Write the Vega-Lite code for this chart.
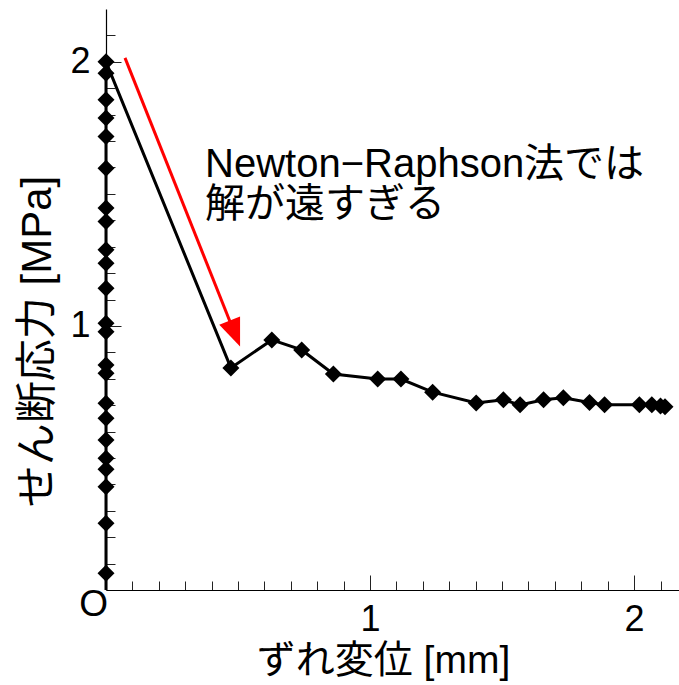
{
  "$schema": "https://vega.github.io/schema/vega-lite/v6.json",
  "width": 573,
  "height": 581,
  "autosize": "none",
  "padding": {"left": 106, "top": 9, "right": 0, "bottom": 95},
  "background": "white",
  "config": {
    "view": {"stroke": null},
    "font": "Liberation Sans, Noto Sans CJK JP",
    "axis": {
      "grid": false,
      "domainColor": "#000",
      "domainWidth": 1.2,
      "tickColor": "#222",
      "tickWidth": 1,
      "labelColor": "#000",
      "titleColor": "#000",
      "labelFont": "Liberation Sans",
      "titleFont": "Liberation Sans, Noto Sans CJK JP",
      "titleFontWeight": "normal",
      "labelFontSize": 36
    }
  },
  "datasets": {
    "main": [
      {"i": 0, "x": 0, "y": 0},
      {"i": 1, "x": 0, "y": 0.063},
      {"i": 2, "x": 0, "y": 0.253},
      {"i": 3, "x": 0, "y": 0.391},
      {"i": 4, "x": 0, "y": 0.457},
      {"i": 5, "x": 0, "y": 0.499},
      {"i": 6, "x": 0, "y": 0.568},
      {"i": 7, "x": 0, "y": 0.65},
      {"i": 8, "x": 0, "y": 0.707},
      {"i": 9, "x": 0, "y": 0.821},
      {"i": 10, "x": 0, "y": 0.852},
      {"i": 11, "x": 0, "y": 0.978},
      {"i": 12, "x": 0, "y": 1.01},
      {"i": 13, "x": 0, "y": 1.143},
      {"i": 14, "x": 0, "y": 1.237},
      {"i": 15, "x": 0, "y": 1.288},
      {"i": 16, "x": 0, "y": 1.395},
      {"i": 17, "x": 0, "y": 1.446},
      {"i": 18, "x": 0, "y": 1.597},
      {"i": 19, "x": 0, "y": 1.717},
      {"i": 20, "x": 0, "y": 1.787},
      {"i": 21, "x": 0, "y": 1.856},
      {"i": 22, "x": 0, "y": 1.957},
      {"i": 23, "x": 0, "y": 2.0},
      {"i": 24, "x": 0.473, "y": 0.841},
      {"i": 25, "x": 0.628, "y": 0.947},
      {"i": 26, "x": 0.741, "y": 0.909},
      {"i": 27, "x": 0.861, "y": 0.818},
      {"i": 28, "x": 1.029, "y": 0.799},
      {"i": 29, "x": 1.117, "y": 0.799},
      {"i": 30, "x": 1.237, "y": 0.749},
      {"i": 31, "x": 1.402, "y": 0.708},
      {"i": 32, "x": 1.505, "y": 0.72},
      {"i": 33, "x": 1.568, "y": 0.701},
      {"i": 34, "x": 1.657, "y": 0.72},
      {"i": 35, "x": 1.732, "y": 0.728},
      {"i": 36, "x": 1.831, "y": 0.71},
      {"i": 37, "x": 1.888, "y": 0.701},
      {"i": 38, "x": 2.02, "y": 0.701},
      {"i": 39, "x": 2.067, "y": 0.701},
      {"i": 40, "x": 2.1, "y": 0.697},
      {"i": 41, "x": 2.117, "y": 0.694}
    ],
    "arrow": [
      {"x": 0.072, "y": 2.015, "x2": 0.472, "y2": 1.01}
    ],
    "arrowhead": [
      {"x": 0.488, "y": 0.971}
    ],
    "notes": [
      {"x": 0.375, "y": 1.564}
    ],
    "origin": [
      {"x": 0, "y": 0, "label": "O"}
    ]
  },
  "layer": [
    {
      "data": {"name": "main"},
      "mark": {"type": "line", "color": "black", "strokeWidth": 3},
      "encoding": {
        "x": {
          "field": "x", "type": "quantitative",
          "scale": {"domain": [0, 2.17], "nice": false, "zero": false},
          "axis": {
            "title": "ずれ変位 [mm]",
            "titleFontSize": 39,
            "titleX": 277,
            "titleY": 70,
            "titleBaseline": "middle",
            "titleAlign": "center",
            "values": [0.1, 0.2, 0.3, 0.4, 0.5, 0.6, 0.7, 0.8, 0.9, 1, 1.1, 1.2, 1.3, 1.4, 1.5, 1.6, 1.7, 1.8, 1.9, 2, 2.1],
            "tickCount": 40,
            "labelExpr": "datum.value === 1 ? '1' : datum.value === 2 ? '2' : ''",
            "tickSize": {"condition": {"test": "datum.value === 1 || datum.value === 2", "value": -15}, "value": -9},
            "labelPadding": 27,
            "labelBaseline": "top",
            "labelFlush": false,
            "labelOverlap": false
          }
        },
        "y": {
          "field": "y", "type": "quantitative",
          "scale": {"domain": [0, 2.2], "nice": false, "zero": false},
          "axis": {
            "title": "せん断応力 [MPa]",
            "titleFontSize": 42,
            "titleX": -69,
            "titleY": 332,
            "titleBaseline": "middle",
            "titleAlign": "center",
            "values": [0.1, 0.2, 0.3, 0.4, 0.5, 0.6, 0.7, 0.8, 0.9, 1, 1.1, 1.2, 1.3, 1.4, 1.5, 1.6, 1.7, 1.8, 1.9, 2, 2.1],
            "tickCount": 40,
            "labelExpr": "datum.value === 1 ? '1' : datum.value === 2 ? '2' : ''",
            "tickSize": {"condition": {"test": "datum.value === 1 || datum.value === 2", "value": -15}, "value": -9},
            "labelPadding": 31,
            "labelBaseline": "middle",
            "labelFlush": false,
            "labelOverlap": false
          }
        },
        "order": {"field": "i", "type": "quantitative"}
      }
    },
    {
      "data": {"name": "main"},
      "transform": [{"filter": "datum.y > 0"}],
      "mark": {"type": "point", "shape": "diamond", "filled": true, "color": "black", "size": 289, "opacity": 1},
      "encoding": {
        "x": {"field": "x", "type": "quantitative"},
        "y": {"field": "y", "type": "quantitative"}
      }
    },
    {
      "data": {"name": "arrow"},
      "mark": {"type": "rule", "color": "#ff0000", "strokeWidth": 3},
      "encoding": {
        "x": {"field": "x", "type": "quantitative"},
        "y": {"field": "y", "type": "quantitative"},
        "x2": {"field": "x2"},
        "y2": {"field": "y2"}
      }
    },
    {
      "data": {"name": "arrowhead"},
      "mark": {"type": "point", "shape": "M-0.8,-1L0.8,-1L0,1Z", "filled": true, "color": "#ff0000", "size": 784, "angle": 338.2, "opacity": 1},
      "encoding": {
        "x": {"field": "x", "type": "quantitative"},
        "y": {"field": "y", "type": "quantitative"}
      }
    },
    {
      "data": {"name": "notes"},
      "mark": {"type": "text", "text": ["Newton−Raphson法では", "解が遠すぎる"], "align": "left", "baseline": "alphabetic", "fontSize": 40, "lineHeight": 40, "color": "black", "font": "Liberation Sans, Noto Sans CJK JP"},
      "encoding": {
        "x": {"field": "x", "type": "quantitative"},
        "y": {"field": "y", "type": "quantitative"}
      }
    },
    {
      "data": {"name": "origin"},
      "mark": {"type": "text", "align": "right", "baseline": "top", "fontSize": 37, "dx": 2, "dy": -3, "color": "black", "font": "Liberation Sans"},
      "encoding": {
        "x": {"field": "x", "type": "quantitative"},
        "y": {"field": "y", "type": "quantitative"},
        "text": {"field": "label"}
      }
    }
  ]
}
